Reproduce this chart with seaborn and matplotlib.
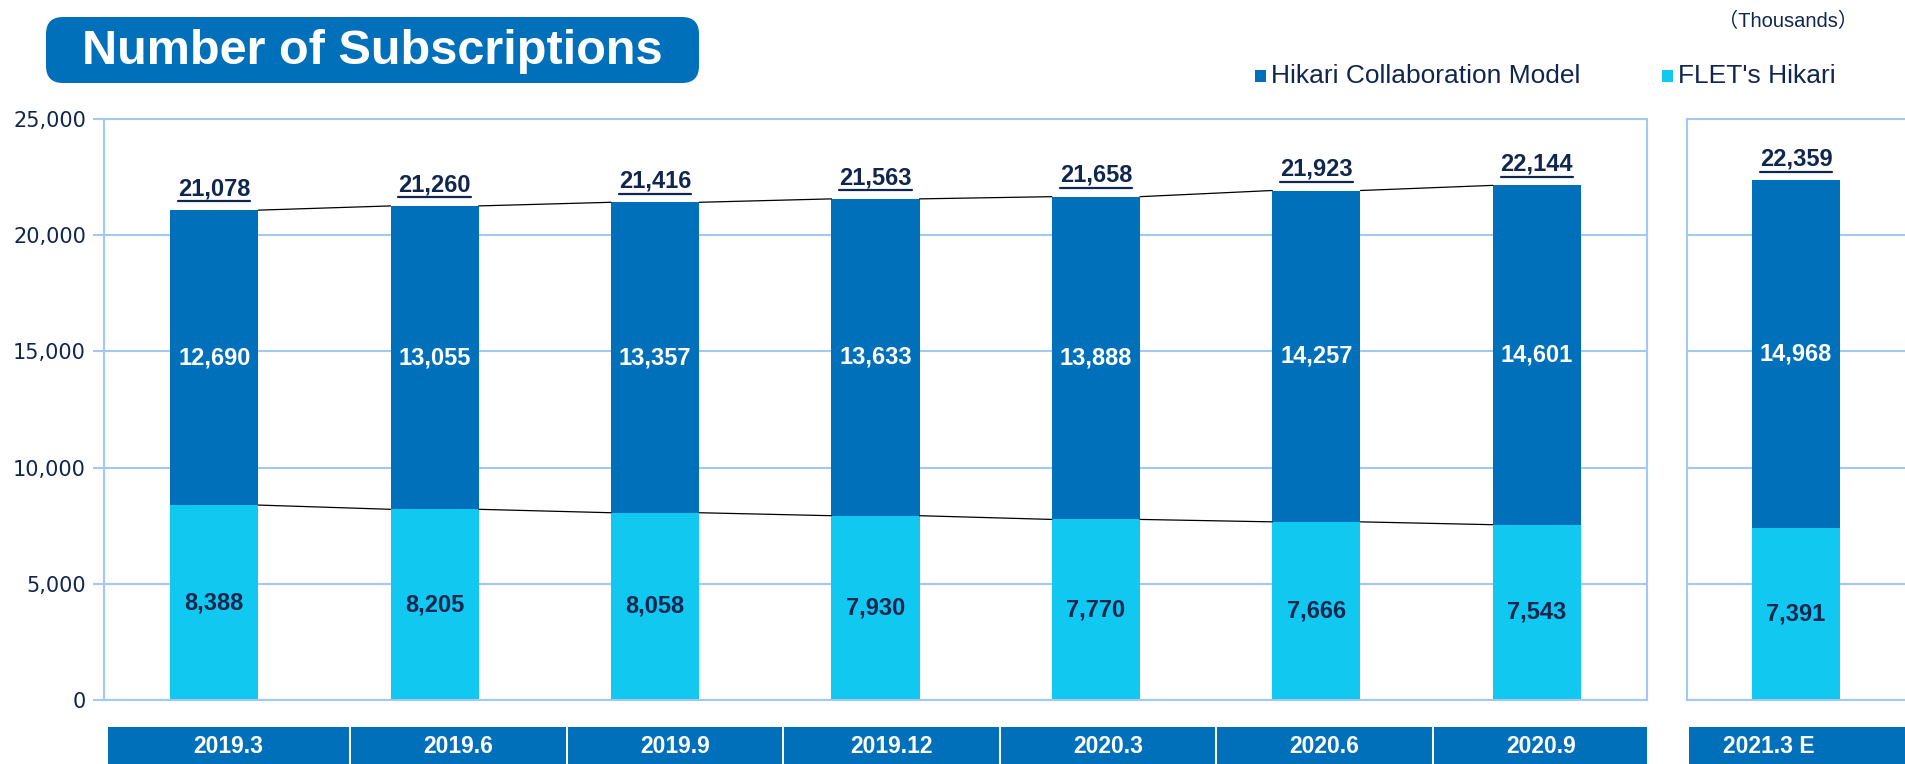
import matplotlib
matplotlib.use("Agg")
import matplotlib.pyplot as plt
import seaborn as sns
import pandas as pd
from matplotlib.patches import FancyBboxPatch, Rectangle
from matplotlib.lines import Line2D
from matplotlib.ticker import FuncFormatter

periods = ['2019.3', '2019.6', '2019.9', '2019.12', '2020.3', '2020.6', '2020.9']
collab = [12690, 13055, 13357, 13633, 13888, 14257, 14601]
flets = [8388, 8205, 8058, 7930, 7770, 7666, 7543]
totals = [21078, 21260, 21416, 21563, 21658, 21923, 22144]

fc_period = ['2021.3 E']
fc_collab = [14968]
fc_flets = [7391]
fc_totals = [22359]

DARK = '#0070BA'
CYAN = '#10C8F0'
NAVY = '#10264F'
GRID = '#A4C8F4'

sns.set_theme(style='white')
plt.rcParams['font.family'] = ['Liberation Sans', 'Noto Sans CJK JP', 'DejaVu Sans']

fig = plt.figure(figsize=(19.05, 7.64), dpi=100)
W, H = 1905, 764


def px_axes(x0, x1, ytop, ybot):
    return fig.add_axes([x0 / W, 1 - ybot / H, (x1 - x0) / W, (ybot - ytop) / H])


ax = px_axes(104, 1647, 119, 700)
ax2 = px_axes(1687, 1905, 119, 700)


def draw_panel(a, cats, tot, low, mid):
    df = pd.DataFrame({'period': cats, 'total': tot, 'flets': low})
    sns.barplot(data=df, x='period', y='total', color=DARK, width=0.4,
                saturation=1, ax=a, linewidth=0)
    sns.barplot(data=df, x='period', y='flets', color=CYAN, width=0.4,
                saturation=1, ax=a, linewidth=0)
    a.set_ylim(0, 25000)
    a.set_xlabel('')
    a.set_ylabel('')
    a.set_xticks([])
    a.set_yticks(range(0, 25001, 5000))
    a.yaxis.grid(True, color=GRID, linewidth=1.5)
    a.set_axisbelow(True)
    for s in a.spines.values():
        s.set_color(GRID)
        s.set_linewidth(1.5)
    for i in range(len(cats)):
        a.text(i, low[i] / 2, f'{low[i]:,}', ha='center', va='center',
               color=NAVY, fontsize=17, fontweight='bold')
        a.text(i, low[i] + mid[i] / 2, f'{mid[i]:,}', ha='center', va='center',
               color='white', fontsize=17, fontweight='bold')
        a.text(i, tot[i] + 420, f'{tot[i]:,}', ha='center', va='bottom',
               color=NAVY, fontsize=17, fontweight='bold', gid='total')


draw_panel(ax, periods, totals, flets, collab)
ax.set_xlim(-0.5, 6.5)
ax.yaxis.set_major_formatter(FuncFormatter(lambda v, _: f'{int(v):,}'))
ax.tick_params(axis='y', left=True, length=8, width=1.5, color=GRID, pad=5,
               labelsize=15, labelcolor=NAVY)
for lab in ax.get_yticklabels():
    lab.set_family('DejaVu Sans')

# connector lines between bars
for i in range(len(periods) - 1):
    ax.plot([i + 0.2, i + 0.8], [totals[i], totals[i + 1]], color='black', lw=0.9)
    ax.plot([i + 0.2, i + 0.8], [flets[i], flets[i + 1]], color='black', lw=0.9)

draw_panel(ax2, fc_period, fc_totals, fc_flets, fc_collab)
ax2.set_xlim(-0.5, 0.5)
ax2.set_yticklabels([])
ax2.tick_params(axis='y', left=False)
ax2.spines['right'].set_visible(False)

# category boxes under the axes
axb = px_axes(104, 1647, 727, 770)
axb.set_xlim(-0.5, 6.5)
axb.set_ylim(0, 1)
axb.axis('off')
edges = [-0.486, 0.617, 1.6, 2.581, 3.564, 4.545, 5.528, 6.51]
for i, p in enumerate(periods):
    x0, x1 = edges[i] + 0.005, edges[i + 1] - 0.005
    axb.add_patch(Rectangle((x0, 0), x1 - x0, 1, color=DARK, lw=0))
    axb.text((x0 + x1) / 2, 0.55, p, ha='center', va='center',
             color='white', fontsize=16.5, fontweight='bold')

axb2 = px_axes(1689, 1905, 727, 770)
axb2.set_xlim(0, 1)
axb2.set_ylim(0, 1)
axb2.axis('off')
axb2.add_patch(Rectangle((0, 0), 1, 1, color=DARK, lw=0))
axb2.text(0.37, 0.55, fc_period[0], ha='center', va='center',
          color='white', fontsize=16.5, fontweight='bold')

# title box
fig.patches.append(FancyBboxPatch((0.46, 6.81), 6.53, 0.66,
                                  boxstyle='round,pad=0,rounding_size=0.17',
                                  transform=fig.dpi_scale_trans, color=DARK, lw=0))
fig.text(3.72 / 19.05, 7.13 / 7.64, 'Number of Subscriptions', ha='center', va='center',
         color='white', fontsize=35, fontweight='bold')

# legend
for sx, label, col in [(1255, 'Hikari Collaboration Model', DARK), (1662, "FLET's Hikari", CYAN)]:
    fig.patches.append(Rectangle((sx / W, 1 - 82 / H), 11 / W, 12 / H,
                                 transform=fig.transFigure, color=col, lw=0))
    fig.text((sx + 16) / W, 1 - 76 / H, label, ha='left', va='center',
             color=NAVY, fontsize=19)

fig.text(1788 / W, 1 - 21 / H, '（Thousands）', ha='center', va='center',
         color=NAVY, fontsize=14.5)

# underline the totals
fig.canvas.draw()
r = fig.canvas.get_renderer()
for a in (ax, ax2):
    for t in a.texts:
        if t.get_gid() == 'total':
            bb = t.get_window_extent(r)
            y = bb.y0 - 1
            fig.lines.append(Line2D([bb.x0 / W, bb.x1 / W], [y / H, y / H],
                                    transform=fig.transFigure, color=NAVY, lw=1.6))

fig.savefig('out.png', dpi=100)
